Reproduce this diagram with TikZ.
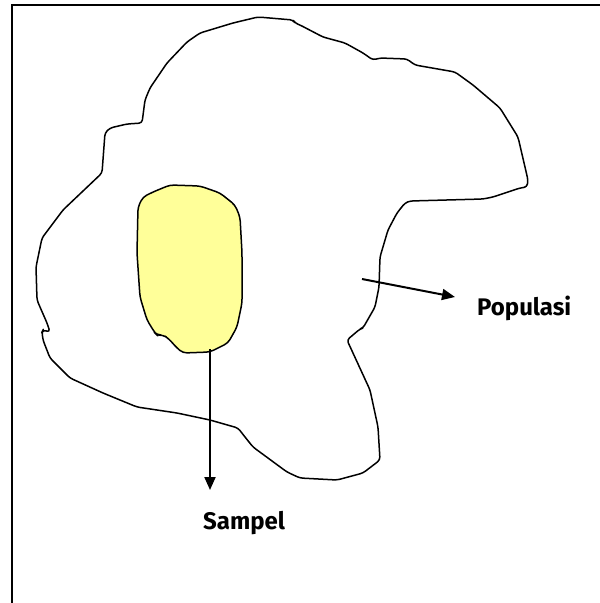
\documentclass[tikz,border=0pt]{standalone}
\usepackage{fontspec}
\setmainfont{Fira Sans}
\usetikzlibrary{arrows.meta,positioning}
\definecolor{samplefill}{HTML}{FFFF99}
\tikzstyle{frame} = [draw,line width=2pt]
\tikzstyle{region} = [draw,line width=1.5pt,line join=round,rounded corners=3pt]
\tikzstyle{sample} = [region,fill=samplefill]
\tikzstyle{pointer} = [-{Triangle[length=13pt,width=11pt]},line width=2pt]
\tikzstyle{caption} = [font=\bfseries\fontsize{24}{27}\selectfont,inner sep=0pt]
\def \tu {1pt}

\begin{document}
\begin{tikzpicture}[x=\tu,y=-\tu]
      \useasboundingbox (0,0) rectangle (600,603);
      \clip (0,0) rectangle (600,603);
      \draw[frame] (12,5) rectangle (620,620);
      % population
      \draw[region] (258,17) -- (293,20) -- (295,23) -- (300,25) -- (323,37) -- (345,43)
        -- (363,53) -- (373,60) -- (380,58) -- (407,59) -- (415,65) -- (455,72)
        -- (473,85) -- (500,108) -- (518,137) -- (528,180) -- (527,187) -- (520,188)
        -- (493,197) -- (483,199) -- (410,201) -- (405,203) -- (397,213) -- (388,230)
        -- (380,257) -- (379,287) -- (375,307) -- (363,328) -- (360,329) -- (347,340)
        -- (370,390) -- (378,427) -- (380,460) -- (363,473) -- (337,480) -- (300,478)
        -- (287,472) -- (253,447) -- (245,437) -- (238,428) -- (210,420) -- (177,413)
        -- (137,407) -- (103,393) -- (70,378) -- (50,358) -- (43,340) -- (42,332)
        -- (43,330) -- (50,332) -- (47,323) -- (40,307) -- (37,300) -- (36,267)
        -- (42,238) -- (63,210) -- (102,173) -- (105,133) -- (110,128) -- (127,124)
        -- (142,123) -- (145,100) -- (150,88) -- (167,63) -- (187,42) -- (200,33)
        -- (233,23) -- cycle;
      % sample
      \draw[sample,rounded corners=4pt] (170,185) -- (200,186) -- (220,193) -- (235,205)
        -- (240,217) -- (242,253) -- (242,303) -- (237,327) -- (228,343) -- (210,352)
        -- (183,353) -- (177,348) -- (168,338) -- (163,335) -- (157,335) -- (155,333)
        -- (147,320) -- (140,297) -- (137,253) -- (138,207) -- (143,197) -- (153,192)
        -- cycle;
      \coordinate (s0) at (210,349);
      \coordinate (s1) at (210,490);
      \coordinate (p0) at (362,279);
      \coordinate (p1) at (455,297);
      \node[caption,anchor=base west] (sampel) at (203,529) {Sampel};
      \node[caption,anchor=base west] (populasi) at (477,315) {Populasi};
      \draw[pointer] (s0) -- (s1);
      \draw[pointer] (p0) -- (p1);
    \end{tikzpicture}
\end{document}
